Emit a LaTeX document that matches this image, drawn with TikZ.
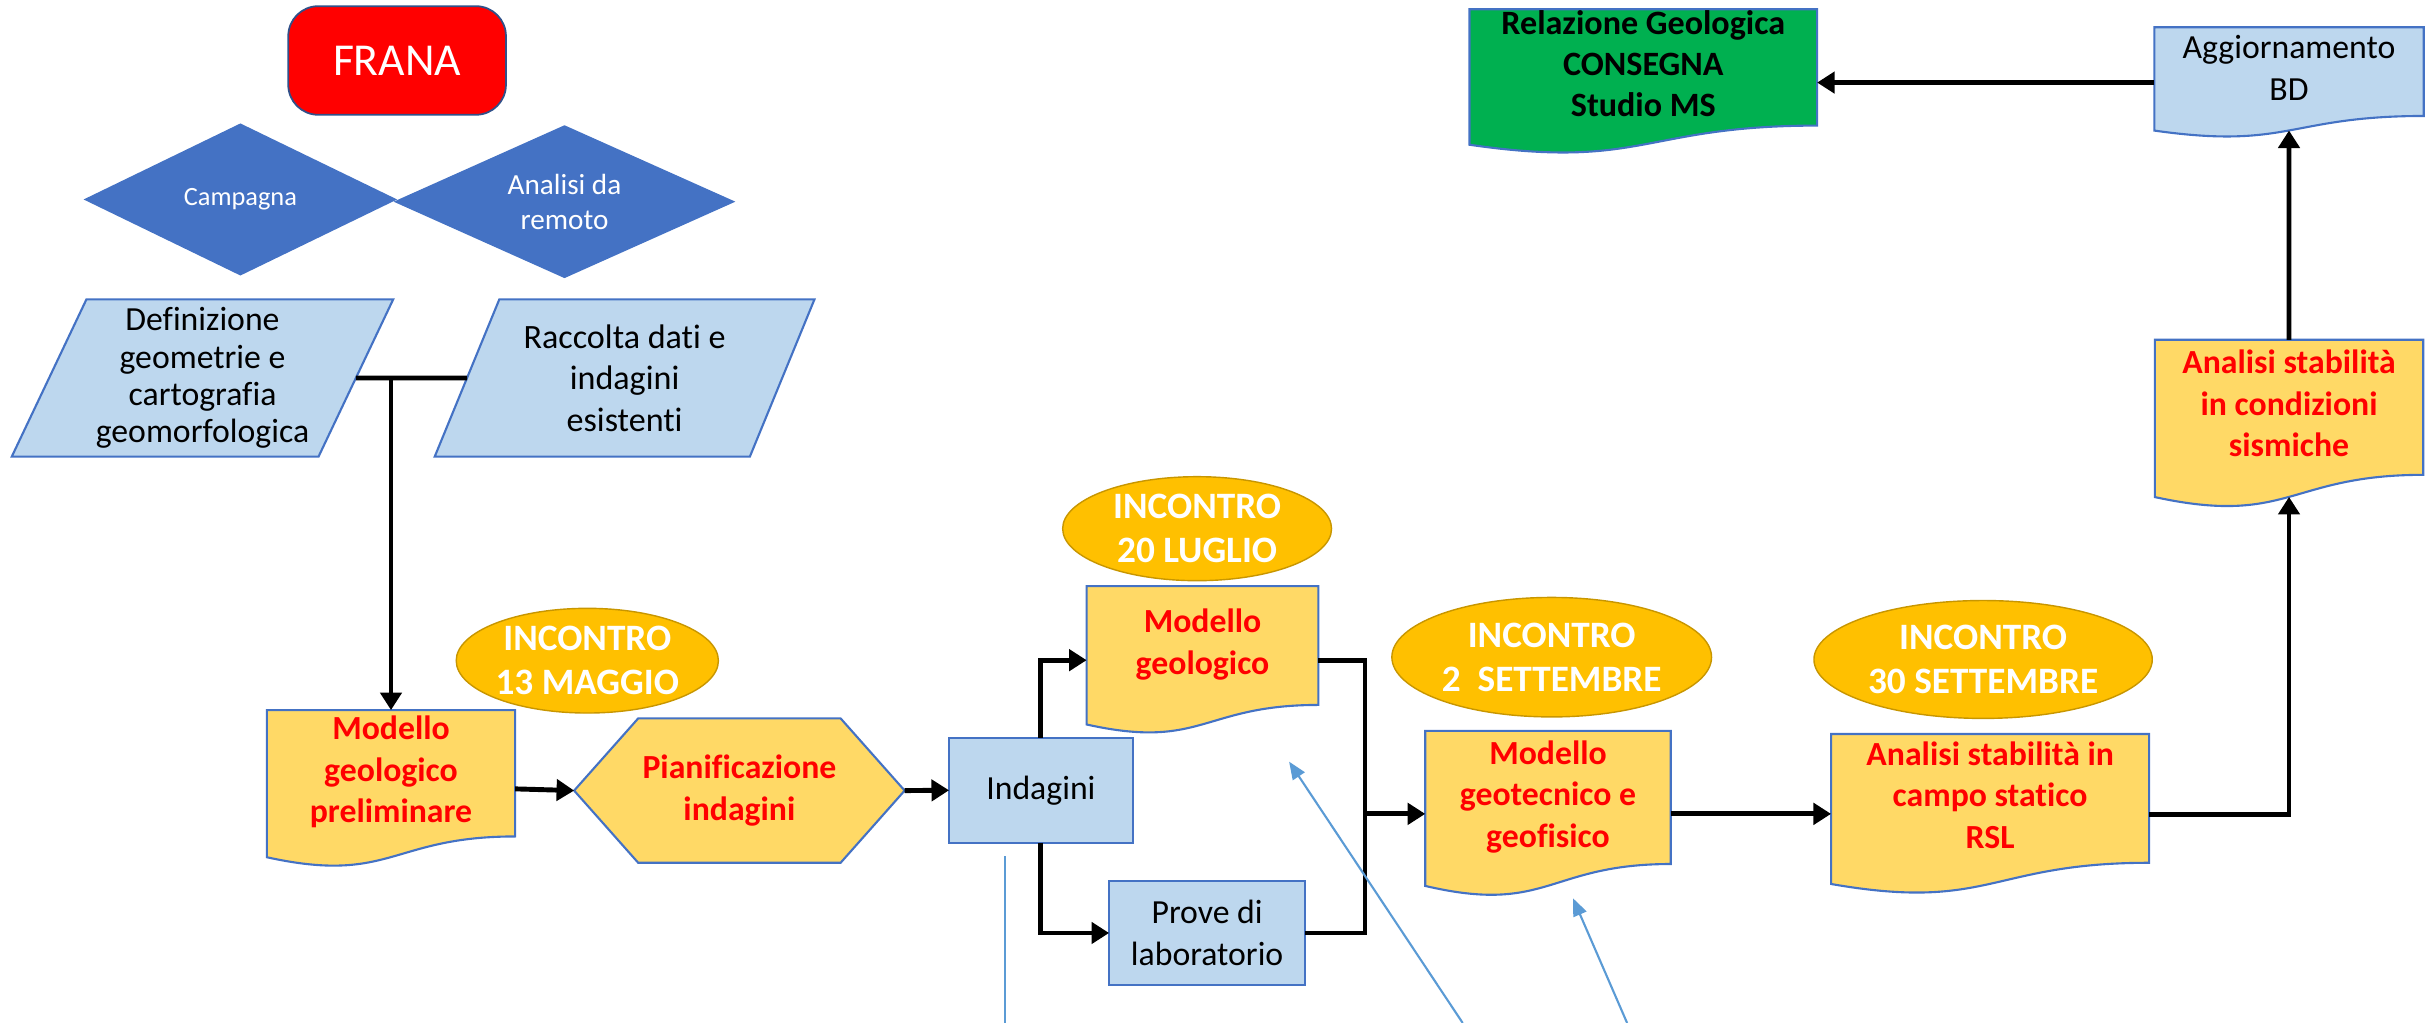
\documentclass[tikz,border=0pt]{standalone}
\usepackage{fontspec}
\setmainfont{Carlito}[Ligatures=CommonOff]
\usetikzlibrary{arrows.meta,calc,shapes.geometric}
\definecolor{DocClr}{RGB}{255,217,102}
\definecolor{BoxClr}{RGB}{189,215,238}
\definecolor{EdgeClr}{RGB}{68,114,196}
\definecolor{DiamondClr}{RGB}{68,114,196}
\definecolor{MeetClr}{RGB}{255,192,0}
\definecolor{MeetEdgeClr}{RGB}{200,150,0}
\definecolor{FranaClr}{RGB}{255,0,0}
\definecolor{FinalClr}{RGB}{0,176,80}
\definecolor{RedTxtClr}{RGB}{255,0,0}
\definecolor{PointerClr}{RGB}{91,155,213}

\pgfdeclarelayer{back}
\pgfsetlayers{back,main}

% document outline with wavy bottom, drawn behind node #1
\newcommand\DocFrame[2]{%
  \begin{pgfonlayer}{back}
    \filldraw[fill=#2,draw=EdgeClr,line width=.6pt]
      (#1.north west) -- (#1.north east) -- ($(#1.north east)!.802!(#1.south east)$)
      .. controls ($(#1.north)!.802!(#1.south)$) and ($(#1.north)!1.1075!(#1.south)$)
      .. ($(#1.north west)!.934!(#1.south west)$) -- cycle;
  \end{pgfonlayer}}

\begin{document}
\begin{tikzpicture}[x=1cm,y=1cm,
  every node/.style={outer sep=0pt,inner sep=0pt,align=center},
  doc/.style={minimum height=#1,
    execute at end node={\rule[-\dimexpr#1/5+2pt\relax]{0pt}{0pt}}},
  redtxt/.style={text=RedTxtClr,font=\fontsize{9.6}{11.8}\selectfont\bfseries},
  lightbox/.style={fill=BoxClr,draw=EdgeClr,line width=.6pt,
    font=\fontsize{9.6}{11.8}\selectfont},
  slanted/.style={trapezium,trapezium left angle=64,trapezium right angle=116,
    trapezium stretches,fill=BoxClr,draw=EdgeClr,line width=.6pt},
  meet/.style={ellipse,fill=MeetClr,draw=MeetEdgeClr,line width=.4pt,
    text=white,font=\fontsize{10.6}{12.4}\selectfont\bfseries},
  flow/.style={line width=1.4pt,-{Triangle[length=5pt,width=6pt]}},
  wire/.style={line width=1.4pt},
  pointerline/.style={draw=PointerClr,line width=.6pt},
]
\useasboundingbox (0,0) rectangle (24.33,10.23);

% start
\node[rounded corners=3mm,fill=FranaClr,draw=EdgeClr!70!black,line width=.5pt,
  minimum width=2.177cm,minimum height=1.086cm,text=white,
  font=\fontsize{13}{15}\selectfont] (frana) at (3.971,9.625) {FRANA};

\node[diamond,aspect=2.2,fill=DiamondClr,draw=DiamondClr,text=white,
  minimum width=3.103cm,minimum height=1.505cm,
  font=\fontsize{7.5}{9}\selectfont] (campagna) at (2.404,8.235) {Campagna};
\node[diamond,aspect=2.2,fill=DiamondClr,draw=DiamondClr,text=white,
  minimum width=3.383cm,minimum height=1.513cm,
  font=\fontsize{8.3}{10}\selectfont] (remoto) at (5.645,8.213) {Analisi da\\remoto};

\node[slanted,minimum width=3.825cm,minimum height=1.573cm,
  font=\fontsize{9.6}{10.6}\selectfont] (geometrie) at (2.025,6.450)
  {Definizione\\geometrie e\\cartografia\\geomorfologica};
\node[slanted,minimum width=3.823cm,minimum height=1.573cm,
  font=\fontsize{9.7}{11.8}\selectfont] (raccolta) at (6.246,6.450)
  {Raccolta dati e\\indagini\\esistenti};

% main chain
\node[doc=1.575cm,minimum width=2.483cm,redtxt] (prelim) at (3.910,2.341)
  {Modello\\geologico\\preliminare};
\DocFrame{prelim}{DocClr}

\node[minimum width=3.305cm,minimum height=1.443cm,redtxt] (pianif) at (7.394,2.324)
  {Pianificazione\\indagini};
\begin{pgfonlayer}{back}
  \filldraw[fill=DocClr,draw=EdgeClr,line width=.6pt]
    (pianif.west) -- ([xshift=6.4mm]pianif.north west) -- ([xshift=-6.4mm]pianif.north east)
    -- (pianif.east) -- ([xshift=-6.4mm]pianif.south east) -- ([xshift=6.4mm]pianif.south west) -- cycle;
\end{pgfonlayer}

\node[lightbox,minimum width=1.837cm,minimum height=1.046cm] (indagini) at (10.409,2.327) {Indagini};

\node[doc=1.482cm,minimum width=2.317cm,redtxt] (geologico) at (12.025,3.628)
  {Modello\\geologico};
\DocFrame{geologico}{DocClr}

\node[lightbox,minimum width=1.960cm,minimum height=1.046cm] (prove) at (12.071,0.900)
  {Prove di\\laboratorio};

\node[doc=1.660cm,minimum width=2.455cm,redtxt] (geotecnico) at (15.480,2.091)
  {Modello\\geotecnico e\\geofisico};
\DocFrame{geotecnico}{DocClr}

\node[doc=1.606cm,minimum width=3.181cm,redtxt] (statico) at (19.901,2.087)
  {Analisi stabilità in\\campo statico\\RSL};
\DocFrame{statico}{DocClr}

\node[doc=1.684cm,minimum width=2.684cm,redtxt] (sismiche) at (22.890,5.990)
  {Analisi stabilità\\in condizioni\\sismiche};
\DocFrame{sismiche}{DocClr}

\node[doc=1.106cm,minimum width=2.694cm,font=\fontsize{9.6}{11.8}\selectfont] (bd) at (22.890,9.404)
  {Aggiornamento\\BD};
\DocFrame{bd}{BoxClr}

\node[doc=1.451cm,minimum width=3.476cm,font=\fontsize{9.7}{11.6}\selectfont\bfseries] (relazione) at (16.433,9.412)
  {Relazione Geologica\\CONSEGNA\\Studio MS};
\DocFrame{relazione}{FinalClr}

% meetings
\node[meet,minimum width=2.622cm,minimum height=1.047cm] (maggio) at (5.873,3.623) {INCONTRO\\13 MAGGIO};
\node[meet,minimum width=2.689cm,minimum height=1.040cm] (luglio) at (11.971,4.943) {INCONTRO\\20 LUGLIO};
\node[meet,minimum width=3.197cm,minimum height=1.195cm] (settembre) at (15.517,3.658) {INCONTRO\\2\ \ SETTEMBRE};
\node[meet,minimum width=3.383cm,minimum height=1.179cm] (fine) at (19.831,3.635) {INCONTRO\\30 SETTEMBRE};

% connectors
\draw[wire] (geometrie.east) -- (raccolta.west);
\draw[flow] (prelim.north |- geometrie.east) -- (prelim.north);
\draw[flow] (prelim.east) -- (pianif.west);
\draw[flow] (pianif.east) -- (indagini.west);
\draw[flow] (indagini.north) |- (geologico.west);
\draw[flow] (indagini.south) |- (prove.west);
\coordinate (snodo) at (13.650,2.091);
\draw[wire] (geologico.east) -| (snodo) |- (prove.east);
\draw[flow] (snodo) -- (geotecnico.west);
\draw[flow] (geotecnico.east) -- (geotecnico.east -| statico.west);
\draw[flow] (statico.east) -| ($(sismiche.north)!.933!(sismiche.south)$);
\draw[flow] (sismiche.north) -- ($(bd.north)!.933!(bd.south)$);
\draw[flow] (bd.west) -- (relazione.east |- bd.west);

% thin pointers
\coordinate (p1a) at (10.050,1.669);
\coordinate (p1b) at (10.050,0);
\coordinate (p2a) at (14.627,0);
\coordinate (p2b) at (12.891,2.613);
\coordinate (p3a) at (16.271,0);
\coordinate (p3b) at (15.730,1.247);
\draw[pointerline] (p1a) -- (p1b);
\draw[pointerline,-{Triangle[length=5pt,width=4pt]}] (p2a) -- (p2b);
\draw[pointerline,-{Triangle[length=5pt,width=4pt]}] (p3a) -- (p3b);

\end{tikzpicture}
\end{document}
